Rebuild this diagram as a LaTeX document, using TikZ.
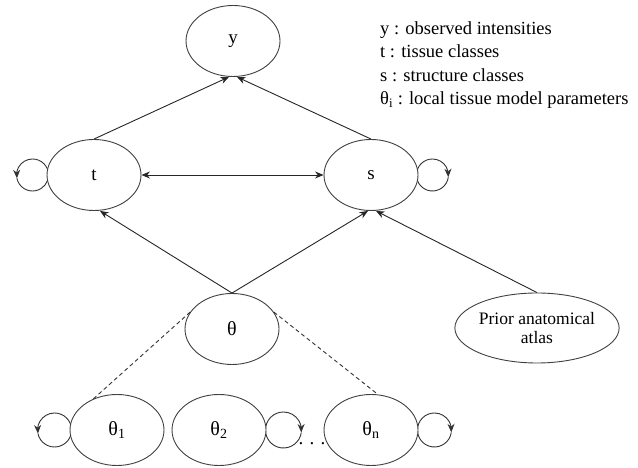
\documentclass[tikz,border=0pt]{standalone}
\usepackage{fontspec}
\setmainfont{Liberation Serif}
\usetikzlibrary{shapes.geometric,arrows.meta,backgrounds,bending}
\begin{document}
\begin{tikzpicture}[x=1pt,y=1pt,
  ell/.style={ellipse, draw=black!75, line width=0.9pt, fill=white, inner sep=0pt,
    minimum width=94pt, minimum height=71pt, font=\fontsize{19}{21}\selectfont},
  tip/.style={-{Stealth[length=8.5pt,width=7pt]}},
  arr/.style={draw=black!85, line width=0.9pt, tip},
  loopline/.style={draw=black!80, line width=0.9pt},
  dashline/.style={draw=black!80, line width=0.9pt, dash pattern=on 4pt off 3pt}]
\useasboundingbox (0,0) rectangle (638,468);
% nodes
\node[ell] (y) at (233,427) {y};
\node[ell] (t) at (94,293) {t};
\node[ell] (s) at (371,293) {s};
\node[ell, font=\fontsize{20}{22}\selectfont] (th) at (232,139) {θ};
\node[ell, minimum width=138pt, minimum height=70pt, align=center,
  font=\fontsize{17.5}{19}\selectfont] (atlas) at (537,140) {Prior anatomical\\atlas};
\node[ell, font=\fontsize{20}{22}\selectfont] (th1) at (117,38) {θ\textsubscript{1}};
\node[ell, font=\fontsize{20}{22}\selectfont] (th2) at (219,38) {θ\textsubscript{2}};
\node[ell, font=\fontsize{20}{22}\selectfont] (thn) at (371,38) {θ\textsubscript{n}};
\node[font=\fontsize{19}{21}\selectfont, anchor=base, inner sep=0pt] (dots) at (312,23) {. . .};
\node[anchor=north west, align=left, inner sep=0pt, font=\fontsize{18.5}{23.5}\selectfont]
  (legend) at (380,447) {y : observed intensities\\t : tissue classes\\s : structure classes\\θ\textsubscript{i} : local tissue model parameters};
% connectors
\draw[arr] (t.north) -- ([xshift=-4pt]y.south);
\draw[arr] (s.north) -- ([xshift=4pt]y.south);
\draw[draw=black!85, line width=0.9pt, {Stealth[length=8.5pt,width=7pt]}-{Stealth[length=8.5pt,width=7pt]}] (t.east) -- (s.west);
\draw[arr] (th.north) -- ([xshift=6pt]t.south);
\draw[arr] (th.north) -- ([xshift=-3pt]s.south);
\draw[arr] (atlas.north) -- ([xshift=5pt]s.south);
\draw[dashline] (th.158) -- (th1.127);
\draw[dashline] (th.22) -- (thn.79);
% self loops
\begin{scope}[on background layer]
  \coordinate (tl) at ([xshift=-14pt]t.west);
  \draw[loopline, tip] (tl) ++(0:16pt) arc[start angle=0, end angle=192, radius=16pt];
  \draw[loopline] (tl) ++(192:16pt) arc[start angle=192, end angle=360, radius=16pt];
  \coordinate (sl) at ([xshift=14pt]s.east);
  \draw[loopline, tip] (sl) ++(180:16pt) arc[start angle=180, end angle=-8, radius=16pt];
  \draw[loopline] (sl) ++(-8:16pt) arc[start angle=-8, end angle=-180, radius=16pt];
  \coordinate (l1) at ([xshift=-15pt]th1.west);
  \draw[loopline, tip] (l1) ++(0:17pt) arc[start angle=0, end angle=192, radius=17pt];
  \draw[loopline] (l1) ++(192:17pt) arc[start angle=192, end angle=360, radius=17pt];
  \coordinate (l2) at ([xshift=17pt]th2.east);
  \draw[loopline, tip] (l2) ++(180:18pt) arc[start angle=180, end angle=-8, radius=18pt];
  \draw[loopline] (l2) ++(-8:18pt) arc[start angle=-8, end angle=-180, radius=18pt];
  \coordinate (ln) at ([xshift=16pt]thn.east);
  \draw[loopline, tip] (ln) ++(180:17pt) arc[start angle=180, end angle=-8, radius=17pt];
  \draw[loopline] (ln) ++(-8:17pt) arc[start angle=-8, end angle=-180, radius=17pt];
\end{scope}
\end{tikzpicture}
\end{document}
